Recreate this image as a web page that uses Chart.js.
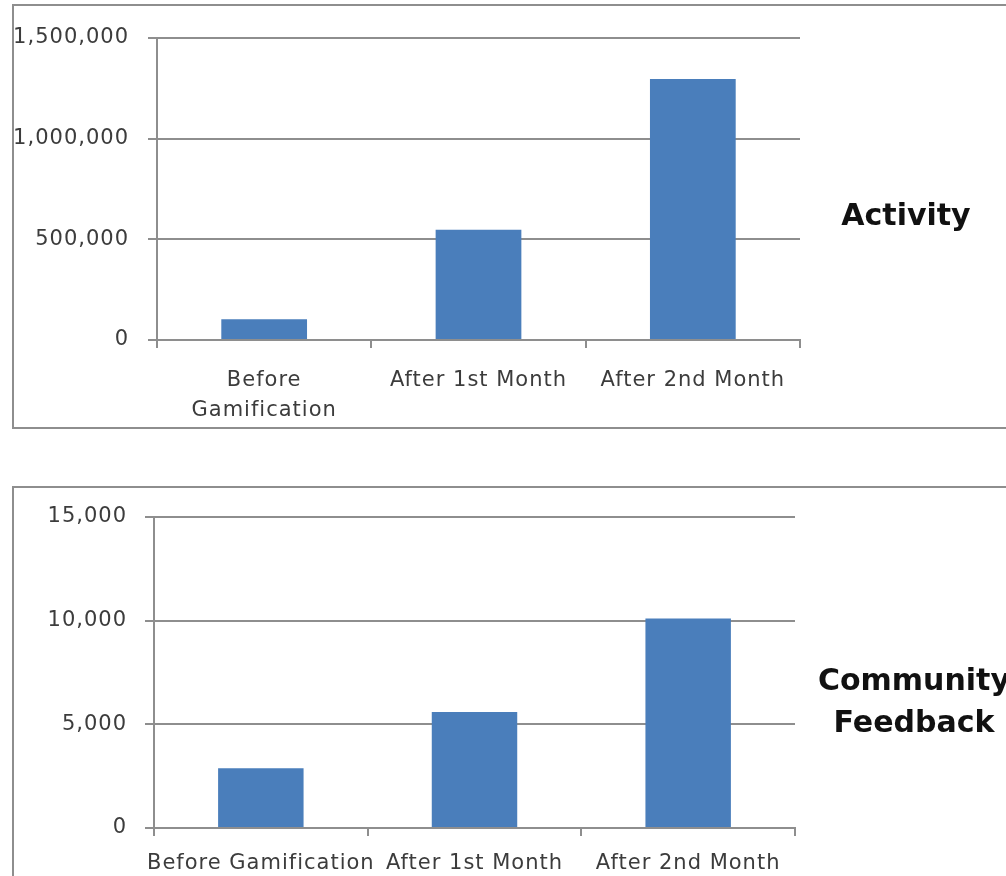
<!DOCTYPE html>
<html>
<head>
<meta charset="utf-8">
<script src="https://cdn.jsdelivr.net/npm/chart.js@4/dist/chart.umd.min.js"></script>
<style>
  html, body { margin: 0; padding: 0; background: #ffffff; overflow: hidden; }
  body { width: 1006px; height: 876px; position: relative; }
  .frame { position: absolute; border: 2px solid #8e8e8e; box-sizing: border-box; }
  canvas { position: absolute; left: 0; }
  .side { position: absolute; font-family: "DejaVu Sans", sans-serif; font-weight: bold;
          font-size: 30px; color: #111111; text-align: center; white-space: nowrap; line-height: 42px; }
</style>
</head>
<body>
<div class="frame" style="left:12px; top:4px; width:1010px; height:425px;"></div>
<div class="frame" style="left:12px; top:486px; width:1010px; height:420px;"></div>
<canvas id="activity" width="1006" height="440" style="top:0;"></canvas>
<canvas id="feedback" width="1006" height="406" style="top:470px;"></canvas>
<div class="side" style="left:806px; top:194px; width:200px;">Activity</div>
<div class="side" style="left:764px; top:659px; width:300px;">Community<br>Feedback</div>
<script>
// Categories and values for the two panels
const activityCategories = [["Before", "Gamification"], "After 1st Month", "After 2nd Month"];
const activityValues = [103000, 547000, 1296000];
const activityTicks = [0, 500000, 1000000, 1500000];

const feedbackCategories = ["Before Gamification", "After 1st Month", "After 2nd Month"];
const feedbackValues = [2880, 5590, 10100];
const feedbackTicks = [0, 5000, 10000, 15000];

const BAR_BLUE = "#4a7ebb";
const GRID_GRAY = "#8e8e8e";
const LABEL_GRAY = "#3c3c3c";

// Wider glyph spacing for axis text
const spacingPlugin = {
  id: "spacing",
  beforeDraw(chart) { chart.ctx.letterSpacing = "1px"; }
};

function makeBarChart(id, cats, vals, ticks, geom) {
  const yMax = ticks[ticks.length - 1];
  const step = ticks[1] - ticks[0];
  return new Chart(document.getElementById(id), {
    type: "bar",
    data: {
      labels: cats,
      datasets: [{
        data: vals,
        backgroundColor: BAR_BLUE,
        borderWidth: 0,
        barPercentage: 0.4,
        categoryPercentage: 1.0
      }]
    },
    plugins: [spacingPlugin],
    options: {
      responsive: false,
      animation: false,
      devicePixelRatio: 1,
      layout: { padding: { left: 0, right: geom.right, top: geom.top, bottom: 0 } },
      plugins: { legend: { display: false }, tooltip: { enabled: false } },
      scales: {
        x: {
          offset: true,
          grid: { display: true, drawOnChartArea: false, drawTicks: true, tickLength: 8,
                  offset: true, color: GRID_GRAY, lineWidth: 2 },
          border: { display: true, color: GRID_GRAY, width: 2 },
          ticks: {
            autoSkip: false, maxRotation: 0, minRotation: 0,
            padding: geom.xPad,
            color: LABEL_GRAY,
            font: { family: "DejaVu Sans", size: 21, lineHeight: 1.43 }
          },
          afterFit(scale) { scale.height = geom.xHeight; }
        },
        y: {
          min: 0, max: yMax,
          grid: { color: GRID_GRAY, lineWidth: 2, drawTicks: true, tickLength: 9 },
          border: { display: true, color: GRID_GRAY, width: 2 },
          ticks: {
            stepSize: step,
            padding: geom.yPad,
            color: LABEL_GRAY,
            font: { family: "DejaVu Sans", size: 21 },
            callback: v => v.toLocaleString("en-US")
          },
          afterFit(scale) { scale.width = geom.yWidth; }
        }
      }
    }
  });
}

makeBarChart("activity", activityCategories, activityValues, activityTicks,
  { right: 206, top: 38, xHeight: 100, yWidth: 157, xPad: 18, yPad: 19 });
makeBarChart("feedback", feedbackCategories, feedbackValues, feedbackTicks,
  { right: 211, top: 47, xHeight: 48, yWidth: 154, xPad: 13, yPad: 18 });
</script>
</body>
</html>
